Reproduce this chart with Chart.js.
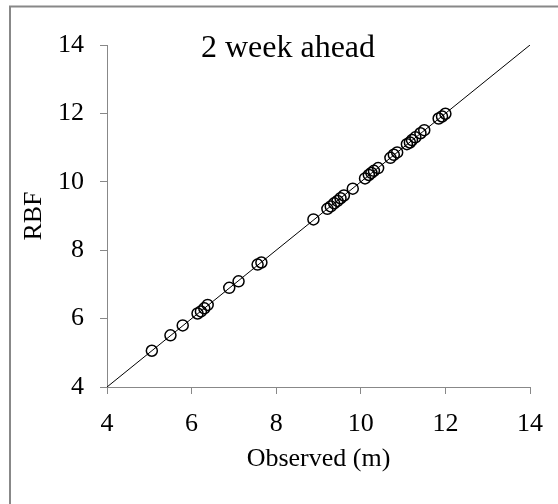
<!DOCTYPE html>
<html>
<head>
<meta charset="utf-8">
<script src="https://cdn.jsdelivr.net/npm/chart.js@4/dist/chart.umd.min.js"></script>
<style>
  html, body { margin: 0; padding: 0; background: #fff; }
  #wrap { width: 558px; height: 504px; position: relative; }
</style>
</head>
<body>
<div id="wrap"><canvas id="chart1"></canvas></div>
<script>
// values
var observed = [5.06, 5.50, 5.79, 6.14, 6.22, 6.30, 6.38, 6.89, 7.11, 7.56, 7.65,
  8.88, 9.21, 9.29, 9.37, 9.45, 9.52, 9.60, 9.81, 10.10, 10.19, 10.25, 10.31, 10.41,
  10.70, 10.78, 10.86, 11.09, 11.16, 11.21, 11.29, 11.41, 11.50, 11.84, 11.92, 12.00];
var rbf = [5.06, 5.51, 5.80, 6.15, 6.21, 6.30, 6.40, 6.90, 7.09, 7.58, 7.64,
  8.90, 9.21, 9.28, 9.37, 9.44, 9.52, 9.60, 9.80, 10.10, 10.20, 10.26, 10.32, 10.40,
  10.70, 10.79, 10.86, 11.10, 11.15, 11.22, 11.30, 11.42, 11.51, 11.85, 11.91, 11.99];
var lineEnds = [4, 14];
var axisMin = 4, axisMax = 14, axisStep = 2;
var chartTitle = '2 week ahead';

var serif = '"Liberation Serif", "Times New Roman", serif';
var grey = '#888888';

var points = observed.map(function (v, i) { return { x: v, y: rbf[i] }; });
var oneToOne = lineEnds.map(function (v) { return { x: v, y: v }; });

// grey frame on the left and top edge, and the title inside the plot
var framePlugin = {
  id: 'frame',
  beforeDraw: function (chart) {
    var ctx = chart.ctx;
    ctx.save();
    ctx.strokeStyle = grey;
    ctx.lineWidth = 2;
    ctx.beginPath();
    ctx.moveTo(10, chart.height);
    ctx.lineTo(10, 6.5);
    ctx.lineTo(chart.width, 6.5);
    ctx.stroke();
    ctx.restore();
  },
  afterDraw: function (chart) {
    var ctx = chart.ctx, a = chart.chartArea;
    ctx.save();
    ctx.font = '32px ' + serif;
    ctx.fillStyle = '#000';
    ctx.textAlign = 'center';
    ctx.textBaseline = 'alphabetic';
    ctx.fillText(chartTitle, a.left + 181, a.top + 12);
    ctx.restore();
  }
};

var c1 = document.getElementById('chart1').getContext('2d');
var rbfChart = new Chart(c1, {
  type: 'scatter',
  data: {
    datasets: [{
      label: 'RBF',
      data: points,
      pointStyle: 'circle',
      pointRadius: 5.5,
      pointHoverRadius: 5.5,
      borderWidth: 1.5,
      borderColor: '#000',
      backgroundColor: 'rgba(0,0,0,0)'
    }, {
      type: 'line',
      label: '1:1',
      data: oneToOne,
      borderColor: '#000',
      borderWidth: 1,
      pointRadius: 0,
      fill: false
    }]
  },
  options: {
    responsive: true,
    maintainAspectRatio: false,
    animation: false,
    layout: { padding: { left: 9, top: 45, right: 26, bottom: 0 } },
    plugins: {
      legend: { display: false },
      title: { display: false },
      tooltip: { enabled: false }
    },
    scales: {
      x: {
        type: 'linear',
        min: axisMin,
        max: axisMax,
        afterFit: function (s) { s.height = 117; },
        border: { color: grey, width: 1 },
        grid: { drawOnChartArea: false, tickLength: 7, color: grey },
        ticks: { stepSize: axisStep, color: '#000', padding: 15, font: { family: serif, size: 26 } },
        title: { display: true, text: 'Observed (m)', color: '#000', padding: { top: 0, bottom: 29 }, font: { family: serif, size: 26 } }
      },
      y: {
        type: 'linear',
        min: axisMin,
        max: axisMax,
        afterFit: function (s) { s.width = 98; },
        border: { color: grey, width: 1 },
        grid: { drawOnChartArea: false, tickLength: 7, color: grey },
        ticks: { stepSize: axisStep, color: '#000', padding: 16, font: { family: serif, size: 26 } },
        title: { display: true, text: 'RBF', color: '#000', padding: { top: 10, bottom: 10 }, font: { family: serif, size: 26 } }
      }
    }
  },
  plugins: [framePlugin]
});
</script>
</body>
</html>
